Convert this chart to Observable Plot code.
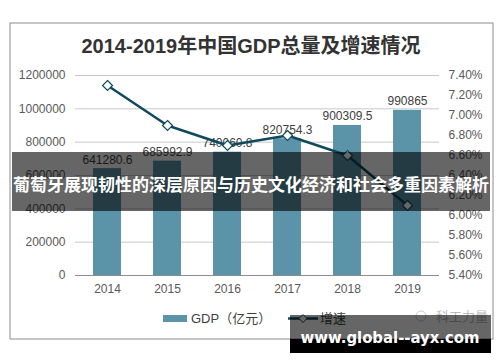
<!DOCTYPE html>
<html><head><meta charset="utf-8">
<script src="https://cdn.jsdelivr.net/npm/d3@7"></script>
<script src="https://cdn.jsdelivr.net/npm/@observablehq/plot@0.6"></script>
<style>
html,body{margin:0;padding:0;background:#fff;}
#chart{width:500px;height:362px;overflow:hidden;}
</style></head>
<body><div id="chart"></div>
<script>
const years = ["2014","2015","2016","2017","2018","2019"];
const gdp = [641280.6, 685992.9, 740060.8, 820754.3, 900309.5, 990865];
const gdpLabels = ["641280.6","685992.9","740060.8","820754.3","900309.5","990865"];
const growth = [7.3, 6.9, 6.7, 6.8, 6.6, 6.1];
const gdpTicks = [0,200000,400000,600000,800000,1000000,1200000];
const rateTicks = [5.4,5.6,5.8,6.0,6.2,6.4,6.6,6.8,7.0,7.2,7.4];
const title = "2014-2019年中国GDP总量及增速情况";
const bannerText = "葡萄牙展现韧性的深层原因与历史文化经济和社会多重因素解析";
const siteText = "www.global--ayx.com";

const rMin = 5.4, rMax = 7.4, gMax = 1200000;
const toY = r => (r - rMin) / (rMax - rMin) * gMax;
const fromY = y => rMin + y / gMax * (rMax - rMin);

const data = years.map((y,i) => ({year:y, gdp:gdp[i], label:gdpLabels[i], growth:growth[i]}));
const FONT = '"Liberation Sans", Arial, "Noto Sans CJK SC", sans-serif';
const barColor = "#5b93a8", lineColor = "#0e4a5c";

const svgEl = Plot.plot({
  width:500, height:362,
  marginLeft:75, marginRight:61, marginTop:75, marginBottom:87,
  style:{fontFamily:FONT, fontSize:"12px", color:"#595959", background:"#fff"},
  x:{type:"band", domain:years, paddingInner:0.54, paddingOuter:0.27, label:null},
  y:{domain:[0,gMax], label:null},
  marks:[
    Plot.gridY(gdpTicks,{stroke:"#c8c8c8", strokeOpacity:1}),
    Plot.barY(data,{x:"year", y:"gdp", fill:barColor}),
    Plot.ruleY([0],{stroke:"#8c8c8c"}),
    Plot.axisY(gdpTicks,{anchor:"left", tickSize:0, tickPadding:10, tickFormat:d=>String(d), fontSize:12}),
    Plot.axisY(rateTicks.map(toY),{anchor:"right", tickSize:0, tickPadding:9, tickFormat:d=>fromY(d).toFixed(2)+"%", fontSize:12}),
    Plot.axisX({tickSize:0, tickPadding:9, fontSize:12}),
    Plot.text(data,{x:"year", y:"gdp", text:"label", lineAnchor:"bottom", dy:-5, fill:"#404040", fontSize:12}),
    Plot.line(data,{x:"year", y:d=>toY(d.growth), stroke:lineColor, strokeWidth:2.5}),
    Plot.dot(data,{x:"year", y:d=>toY(d.growth), symbol:"diamond2", r:4.5, fill:"#fff", stroke:lineColor, strokeWidth:1.2})
  ]
});
document.getElementById("chart").appendChild(svgEl);

const svg = d3.select(svgEl);
// frame
svg.insert("rect",":first-child").attr("x",10).attr("y",23).attr("width",483).attr("height",316)
  .attr("fill","none").attr("stroke","#8c8c8c").attr("stroke-width",1);
// title
svg.append("text").attr("x",251).attr("y",53).attr("text-anchor","middle")
  .attr("font-family",'"Liberation Sans", Arial, "Noto Sans CJK SC", sans-serif')
  .attr("font-weight","bold").attr("font-size",20).attr("fill","#333").text(title);
// legend
svg.append("rect").attr("x",163).attr("y",315).attr("width",24).attr("height",7).attr("fill",barColor);
svg.append("text").attr("x",191).attr("y",323).attr("text-anchor","start").attr("font-size",13).attr("fill","#404040")
  .attr("font-family",FONT).text("GDP（亿元）");
svg.append("line").attr("x1",288).attr("x2",318).attr("y1",318.5).attr("y2",318.5)
  .attr("stroke",lineColor).attr("stroke-width",2.5);
svg.append("path").attr("d","M303,314.5L307,318.5L303,322.5L299,318.5Z").attr("fill","#fff")
  .attr("stroke",lineColor).attr("stroke-width",1);
svg.append("text").attr("x",320).attr("y",323).attr("text-anchor","start").attr("font-size",13).attr("fill","#404040")
  .attr("font-family",FONT).text("增速");
// watermark
svg.append("circle").attr("cx",421).attr("cy",316).attr("r",5).attr("fill","none").attr("stroke","#ccc");
svg.append("text").attr("x",436).attr("y",321).attr("text-anchor","start").attr("font-size",13).attr("fill","#bbb")
  .attr("font-family",FONT).text("科工力量");
// top banner
svg.append("rect").attr("x",12).attr("y",152).attr("width",478).attr("height",59).attr("fill","rgba(0,0,0,0.6)");
svg.append("text").attr("x",251).attr("y",191).attr("text-anchor","middle")
  .attr("font-family",'"Noto Sans CJK SC", sans-serif').attr("font-weight","bold")
  .attr("font-size",16.5).attr("textLength",476).attr("lengthAdjust","spacingAndGlyphs")
  .attr("fill","#fff").text(bannerText);
// bottom banner
svg.append("rect").attr("x",290).attr("y",315).attr("width",201).attr("height",24).attr("fill","rgba(0,0,0,0.6)");
svg.append("rect").attr("x",290).attr("y",339).attr("width",201).attr("height",14).attr("fill","#000");
svg.append("text").attr("x",390).attr("y",343).attr("text-anchor","middle")
  .attr("font-family",'"DejaVu Sans", sans-serif').attr("font-weight","bold")
  .attr("font-size",16).attr("textLength",179).attr("lengthAdjust","spacingAndGlyphs")
  .attr("fill","#fff").text(siteText);
</script>
</body></html>
